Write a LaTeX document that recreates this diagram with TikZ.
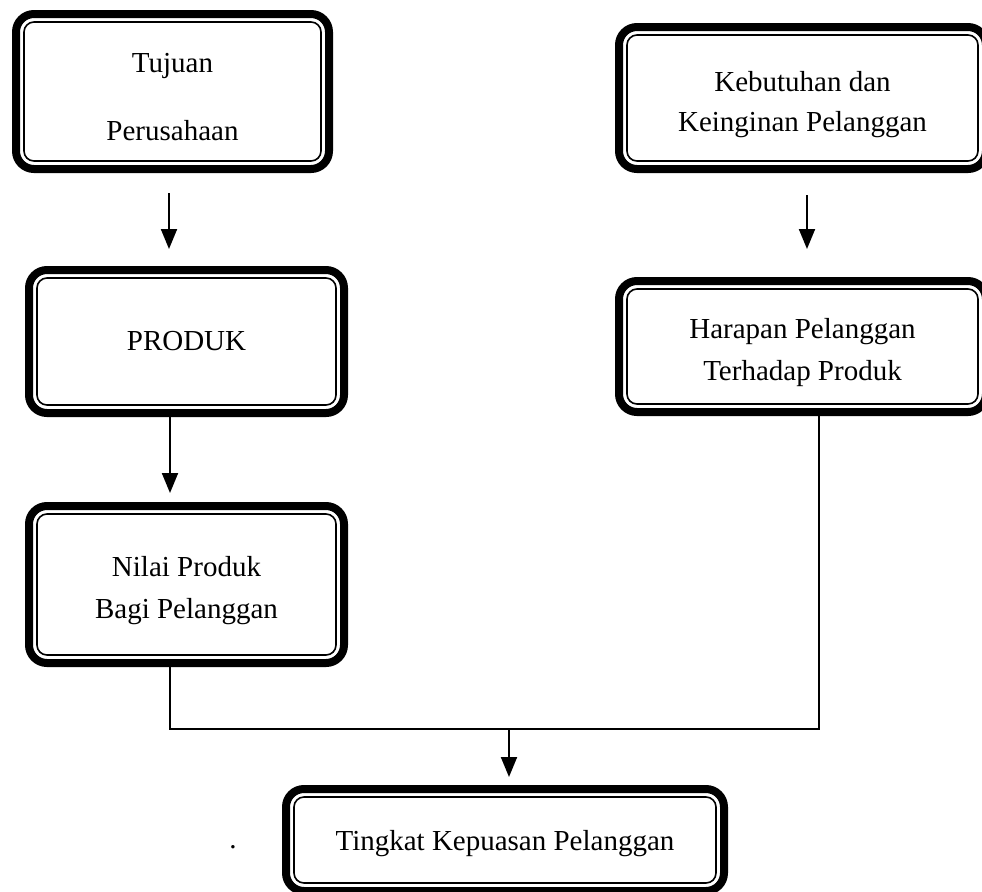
\documentclass[tikz,border=0pt]{standalone}
\usepackage{fontspec}
\setmainfont{Liberation Serif}
\usepackage{tikz}
\usetikzlibrary{positioning,arrows.meta}

\newcommand{\ganjal}[1]{\rule{0pt}{#1}}

\tikzset{
	kotak/.style={draw, line width=4pt, rounded corners=9pt, align=center, inner sep=2pt,
		font=\fontsize{14.5}{21}\selectfont},
	bingkai/.style={line width=0.8pt, rounded corners=5pt},
	panah/.style={line width=1pt, -{Triangle[width=8pt,length=10pt]}},
	garis/.style={line width=0.8pt}
}

\begin{document}
\begin{tikzpicture}[x=0.5pt,y=-0.5pt,on grid]
	\useasboundingbox (0,0) rectangle (982,891);
	\clip (0,0) rectangle (982,891);
	% kolom kiri
	\node[kotak, minimum width=156.5pt, minimum height=77.5pt] (tujuan) at (172.5,91.5) {\ganjal{15pt}Tujuan\\[13pt]Perusahaan};
	\node[kotak, minimum width=157.5pt, minimum height=71.5pt] (produk) [below right=125pt and 7pt of tujuan] {PRODUK};
	\node[kotak, minimum width=157.5pt, minimum height=78.5pt] (nilai) [below=121.5pt of produk] {\ganjal{16pt}Nilai Produk\\Bagi Pelanggan};
	% kolom kanan
	\node[kotak, minimum width=183.5pt, minimum height=71pt] (kebutuhan) [below right=3.25pt and 315pt of tujuan] {\ganjal{17pt}Kebutuhan dan\\[-1pt]Keinginan Pelanggan};
	\node[kotak, minimum width=183.5pt, minimum height=65.5pt] (harapan) [below=124.25pt of kebutuhan] {\ganjal{16pt}Harapan Pelanggan\\Terhadap Produk};
	% hasil
	\node[kotak, minimum width=219pt, minimum height=51pt] (tingkat) at (505,840) {\ganjal{14pt}Tingkat Kepuasan Pelanggan};
	\node[inner sep=0pt, font=\fontsize{14.5}{21}\selectfont] (titik) at (233,847) {.};
	% garis dalam
	\foreach \n in {tujuan,produk,nilai,kebutuhan,harapan,tingkat}
		\draw[bingkai] ([shift={(6pt,6pt)}]\n.south west) rectangle ([shift={(-6pt,-6pt)}]\n.north east);
	\coordinate (temu) at ([xshift=2pt]tingkat.north |- 0,729);
	\draw[panah, shorten <=10pt, shorten >=8.5pt] ([xshift=-1.75pt]tujuan.south) -- ([xshift=-1.75pt]tujuan.south |- produk.north);
	\draw[panah, shorten >=4.5pt] ([xshift=-8.25pt]produk.south) -- ([xshift=-8.25pt]nilai.north);
	\draw[panah, shorten <=11pt, shorten >=14pt] ([xshift=2.25pt]kebutuhan.south) -- ([xshift=2.25pt]harapan.north);
	\draw[garis] ([xshift=-8.25pt]nilai.south) |- (temu) -| ([xshift=8.25pt]harapan.south);
	\draw[panah, shorten >=4pt] (temu) -- (temu |- tingkat.north);
\end{tikzpicture}
\end{document}
